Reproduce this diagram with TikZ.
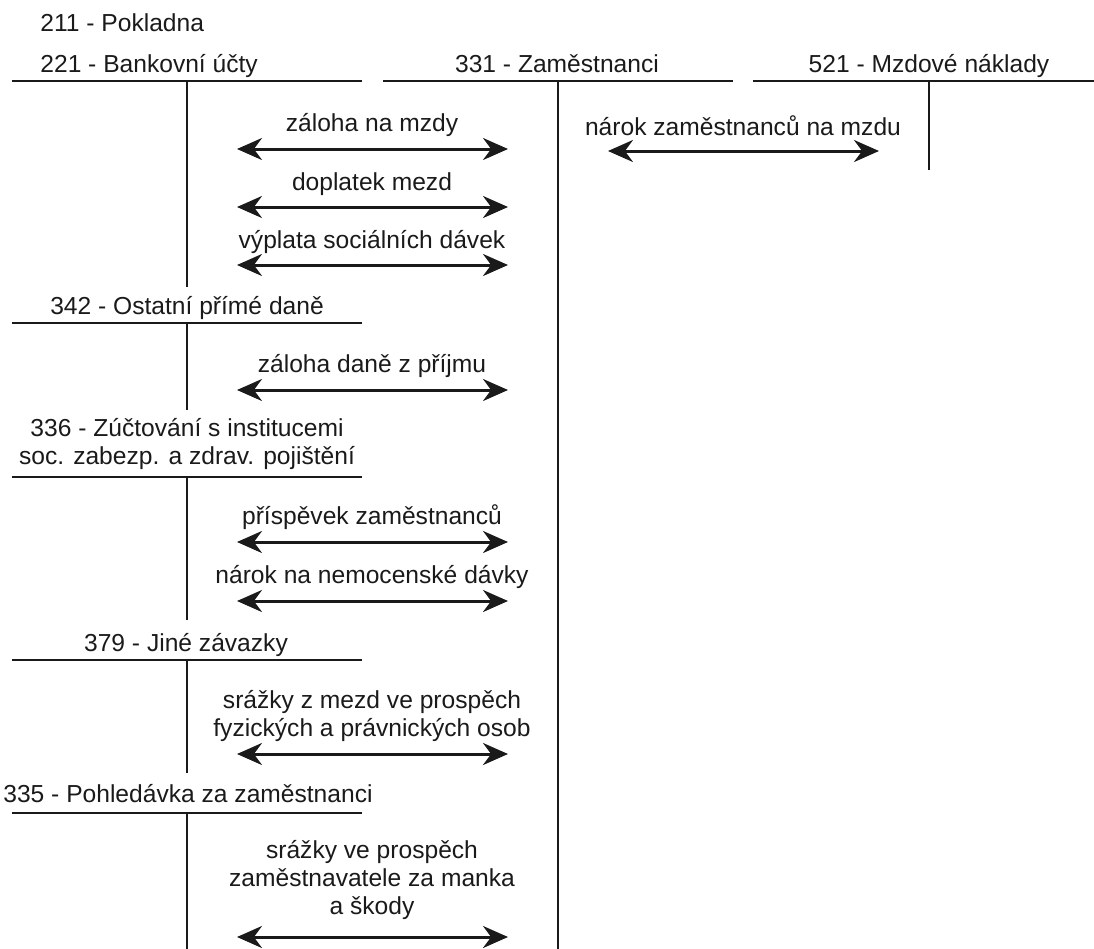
\documentclass[tikz,border=0pt]{standalone}
\usepackage{fontspec}
\setmainfont{Liberation Sans}
\usetikzlibrary{arrows.meta,positioning}
\definecolor{ink}{HTML}{1A1A1A}

\begin{document}
\begin{tikzpicture}[x=0.5pt,y=-0.5pt,font=\fontsize{12.3}{14}\selectfont,
    acct/.style={ink,line width=0.6pt},
    flow/.style={ink,line width=1.5pt,{Stealth[length=12.5pt,width=11pt]}-{Stealth[length=12.5pt,width=11pt]}},
    lbl/.style={inner sep=0pt,align=center,text=ink}]
  \useasboundingbox (0,0) rectangle (1094,949);
  % account headings
  \node[lbl,anchor=base west] (pokl) at (40,31) {211 - Pokladna};
  \node[lbl,anchor=base west] (banka) at (40,72) {221 - Bankovní účty};
  \node[lbl,anchor=base] (zam) at (557,72) {331 - Zaměstnanci};
  \node[lbl,anchor=base] (mzd) at (929,72) {521 - Mzdové náklady};
  \node[lbl,anchor=base] (dane) at (187,314) {342 - Ostatní přímé daně};
  \node[lbl] (inst) at (187,444) {336 - Zúčtování s institucemi\\soc. zabezp. a zdrav. pojištění};
  \node[lbl,anchor=base] (jine) at (186,651) {379 - Jiné závazky};
  \node[lbl,anchor=base] (pohl) at (188,802) {335 - Pohledávka za zaměstnanci};
  % T accounts
  \draw[acct] (12,81) -- (362,81);
  \draw[acct] (383,81) -- (733,81);
  \draw[acct] (753,81) -- (1094,81);
  \draw[acct] (558,81) -- (558,949);
  \draw[acct] (929,81) -- (929,170);
  \draw[acct] (187,81) -- (187,287);
  \foreach \y/\t in {323/410,477/620,660/773,813/949} {
    \draw[acct] (12,\y) -- (362,\y);
    \draw[acct] (187,\y) -- (187,\t);
  }
  % flows
  \foreach \y/\n in {149/a,207/b,265/c,390/d,542/e,601/f,754/g,937/h} {
    \coordinate (\n l) at (237,\y);
    \coordinate (\n r) at (508,\y);
    \draw[flow] (\n l) -- (\n r);
  }
  \coordinate (il) at (608,151);
  \coordinate (ir) at (879,151);
  \draw[flow] (il) -- (ir);
  % flow texts
  \node[lbl,anchor=base] (ta) at (372,131) {záloha na mzdy};
  \node[lbl,anchor=base] (tb) at (372,190) {doplatek mezd};
  \node[lbl,anchor=base] (tc) at (372,248) {výplata sociálních dávek};
  \node[lbl,anchor=base] (td) at (372,372) {záloha daně z příjmu};
  \node[lbl,anchor=base] (te) at (372,524) {příspěvek zaměstnanců};
  \node[lbl,anchor=base] (tf) at (372,583) {nárok na nemocenské dávky};
  \node[lbl] (tg) at (372,716) {srážky z mezd ve prospěch\\fyzických a právnických osob};
  \node[lbl] (th) at (372,880) {srážky ve prospěch\\zaměstnavatele za manka\\a škody};
  \node[lbl,anchor=base] (ti) at (743,135) {nárok zaměstnanců na mzdu};
\end{tikzpicture}
\end{document}
